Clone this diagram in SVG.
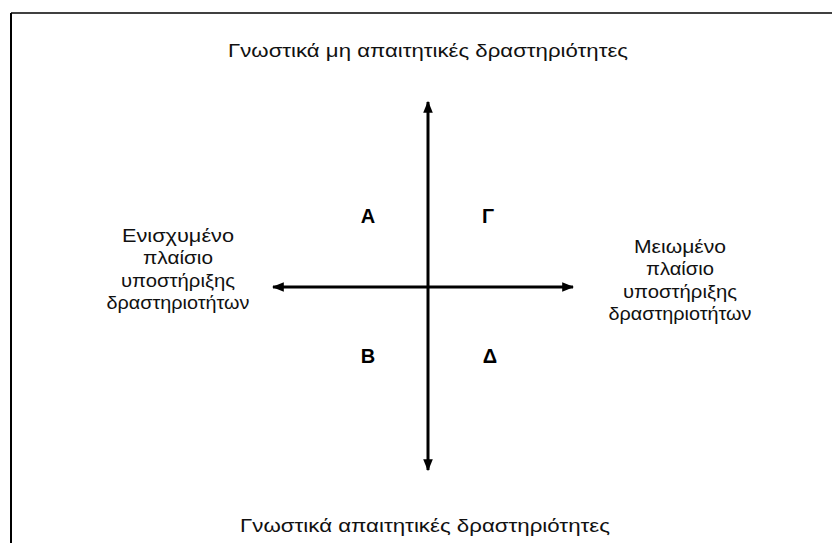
<svg xmlns="http://www.w3.org/2000/svg" width="832" height="543" viewBox="0 0 832 543">
<defs>
<marker id="ah" viewBox="0 0 10 10" refX="9" refY="5" markerWidth="4" markerHeight="4" orient="auto" markerUnits="strokeWidth">
<path d="M0,1 L10,5 L0,9 Z" fill="#000"/>
</marker>
<style>
.t{font-family:"Liberation Sans",Arial,sans-serif;font-size:18px;fill:#111;text-anchor:middle}
.q{font-family:"Liberation Sans",Arial,sans-serif;font-size:20px;font-weight:bold;fill:#000;text-anchor:middle}
.ax{stroke:#000;stroke-width:3;fill:none;marker-end:url(#ah)}
</style>
</defs>
<rect width="832" height="543" fill="#fff"/>
<g id="frame" stroke="#000" fill="none">
<line x1="11" y1="13" x2="832" y2="13" stroke-width="1.5"/>
<line x1="11" y1="13" x2="11" y2="543" stroke-width="2"/>
</g>
<g id="connectors">
<line class="ax" x1="428" y1="287" x2="428" y2="102"/>
<line class="ax" x1="428" y1="287" x2="428" y2="470"/>
<line class="ax" x1="428" y1="287" x2="273" y2="287"/>
<line class="ax" x1="428" y1="287" x2="573" y2="287"/>
</g>
<g id="top"><text class="t" x="428" y="57" textLength="400" lengthAdjust="spacingAndGlyphs">Γνωστικά μη απαιτητικές δραστηριότητες</text></g>
<g id="bottom"><text class="t" x="425" y="532" textLength="370" lengthAdjust="spacingAndGlyphs">Γνωστικά απαιτητικές δραστηριότητες</text></g>
<g id="left">
<text class="t" x="178" y="242" textLength="112" lengthAdjust="spacingAndGlyphs">Ενισχυμένο</text>
<text class="t" x="178" y="264" textLength="70" lengthAdjust="spacingAndGlyphs">πλαίσιο</text>
<text class="t" x="178" y="287" textLength="114" lengthAdjust="spacingAndGlyphs">υποστήριξης</text>
<text class="t" x="178" y="309" textLength="143" lengthAdjust="spacingAndGlyphs">δραστηριοτήτων</text>
</g>
<g id="right">
<text class="t" x="680" y="253" textLength="92" lengthAdjust="spacingAndGlyphs">Μειωμένο</text>
<text class="t" x="680" y="275" textLength="68" lengthAdjust="spacingAndGlyphs">πλαίσιο</text>
<text class="t" x="680" y="298" textLength="114" lengthAdjust="spacingAndGlyphs">υποστήριξης</text>
<text class="t" x="680" y="320" textLength="143" lengthAdjust="spacingAndGlyphs">δραστηριοτήτων</text>
</g>
<g id="qA"><text class="q" x="368" y="223">Α</text></g>
<g id="qG"><text class="q" x="488" y="223">Γ</text></g>
<g id="qB"><text class="q" x="368" y="363">Β</text></g>
<g id="qD"><text class="q" x="490" y="363">Δ</text></g>
</svg>
